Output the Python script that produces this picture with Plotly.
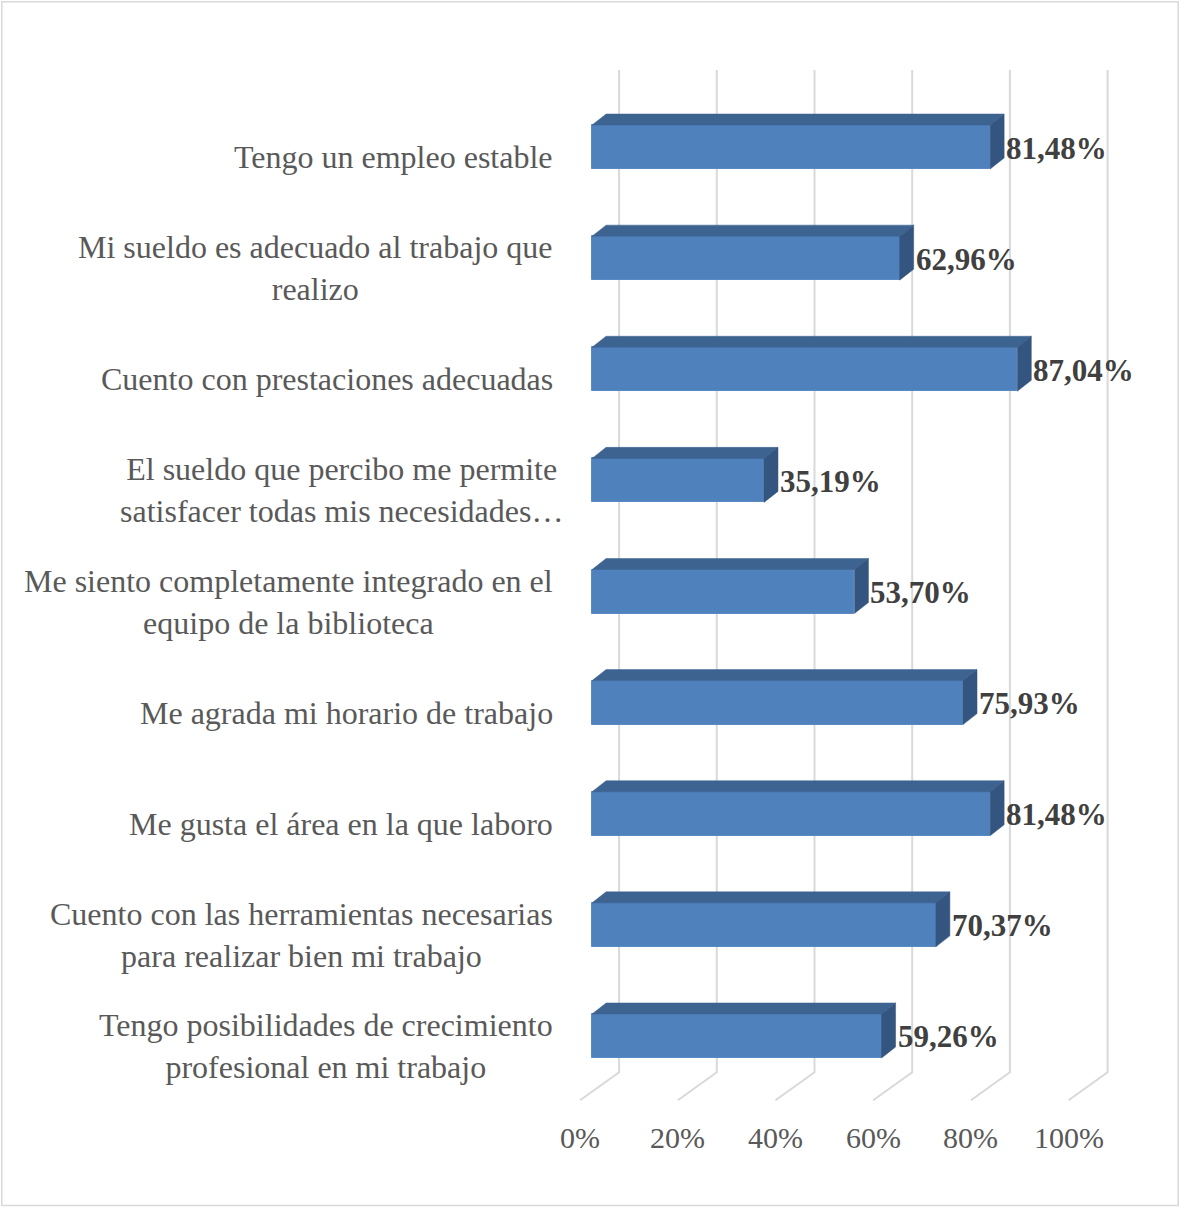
import plotly.graph_objects as go

# ---- data -------------------------------------------------------------
categories = [
    "Tengo un empleo estable",
    "Mi sueldo es adecuado al trabajo que<br>realizo",
    "Cuento con prestaciones adecuadas",
    "El sueldo que percibo me permite<br>satisfacer todas mis necesidades…",
    "Me siento completamente integrado en el<br>equipo de la biblioteca",
    "Me agrada mi horario de trabajo",
    "Me gusta el área en la que laboro",
    "Cuento con las herramientas necesarias<br>para realizar bien mi trabajo",
    "Tengo posibilidades de crecimiento<br>profesional en mi trabajo",
]
values = [81.48, 62.96, 87.04, 35.19, 53.70, 75.93, 81.48, 70.37, 59.26]
value_labels = ["81,48%", "62,96%", "87,04%", "35,19%", "53,70%",
                "75,93%", "81,48%", "70,37%", "59,26%"]
tick_values = [0, 20, 40, 60, 80, 100]
tick_labels = ["0%", "20%", "40%", "60%", "80%", "100%"]

# ---- styling / 3-D geometry (axis units) ------------------------------
FRONT = "#4F81BD"
TOP = "#3D6391"
SIDE = "#34557F"
GRID = "#D9D9D9"
SERIF = "Liberation Serif, Times New Roman, serif"

X_RANGE = [-121.2, 120.35]
Y_RANGE = [-1.539, 9.323]
BAR_H = 0.396          # thickness of the front face
DEPTH_X, DEPTH_Y = 2.87, 0.099     # bar extrusion
BACK_X = 5.53          # back wall offset from the bar plane
FLOOR_X = -2.46        # front edge of the floor
WALL_TOP, WALL_BOTTOM, FLOOR_FRONT = 8.693, -0.326, -0.578
TICK_Y = -0.911
LABEL_X = -7.6

n = len(categories)
ypos = [n - 1 - i for i in range(n)]

fig = go.Figure()

# back wall gridlines and floor edges
for v in tick_values:
    fig.add_shape(type="path", xref="x", yref="y",
                  path=f"M {v + BACK_X} {WALL_TOP} L {v + BACK_X} {WALL_BOTTOM} "
                       f"L {v + FLOOR_X} {FLOOR_FRONT}",
                  line=dict(color=GRID, width=2), layer="below")

# front faces of the bars
fig.add_trace(go.Bar(
    x=values, y=ypos, orientation="h", width=BAR_H, base=0,
    marker=dict(color=FRONT, line=dict(color="#5A8AC4", width=1)),
    hoverinfo="skip", showlegend=False,
))

# top and side faces
for v, y in zip(values, ypos):
    top = y + BAR_H / 2
    bot = y - BAR_H / 2
    fig.add_trace(go.Scatter(
        x=[0, v, v + DEPTH_X, DEPTH_X, 0],
        y=[top, top, top + DEPTH_Y, top + DEPTH_Y, top],
        fill="toself", fillcolor=TOP, mode="lines",
        line=dict(color=TOP, width=0.5), hoverinfo="skip", showlegend=False))
    fig.add_trace(go.Scatter(
        x=[v, v + DEPTH_X, v + DEPTH_X, v, v],
        y=[bot, bot + DEPTH_Y, top + DEPTH_Y, top, bot],
        fill="toself", fillcolor=SIDE, mode="lines",
        line=dict(color=SIDE, width=0.5), hoverinfo="skip", showlegend=False))

annotations = []
# category labels
for cat, y in zip(categories, ypos):
    shift = 10 if cat.startswith("El sueldo") else 0
    annotations.append(dict(
        x=LABEL_X, y=y, xref="x", yref="y", text=cat, showarrow=False,
        xanchor="right", yanchor="middle", align="center", xshift=shift,
        yshift=-10, font=dict(family=SERIF, size=32, color="#595959")))
# value labels
for v, lab, y in zip(values, value_labels, ypos):
    annotations.append(dict(
        x=v + DEPTH_X, y=y, xref="x", yref="y", text=f"<b>{lab}</b>",
        showarrow=False, xanchor="left", yanchor="middle", yshift=-1,
        font=dict(family=SERIF, size=31, color="#404040")))
# axis tick labels along the floor front
for v, lab in zip(tick_values, tick_labels):
    annotations.append(dict(
        x=v + FLOOR_X, y=TICK_Y, xref="x", yref="y", text=lab,
        showarrow=False, xanchor="center", yanchor="middle",
        font=dict(family=SERIF, size=30, color="#595959")))

# outer frame
fig.add_shape(type="rect", xref="paper", yref="paper",
              x0=0.0015, x1=0.9985, y0=0.0012, y1=0.9985,
              line=dict(color=GRID, width=1.5), layer="below")

fig.update_layout(
    width=1180, height=1207,
    margin=dict(l=0, r=0, t=0, b=0),
    paper_bgcolor="white", plot_bgcolor="white",
    xaxis=dict(range=X_RANGE, visible=False, fixedrange=True),
    yaxis=dict(range=Y_RANGE, visible=False, fixedrange=True),
    annotations=annotations,
    bargap=0,
)

fig.write_html("out.html")
